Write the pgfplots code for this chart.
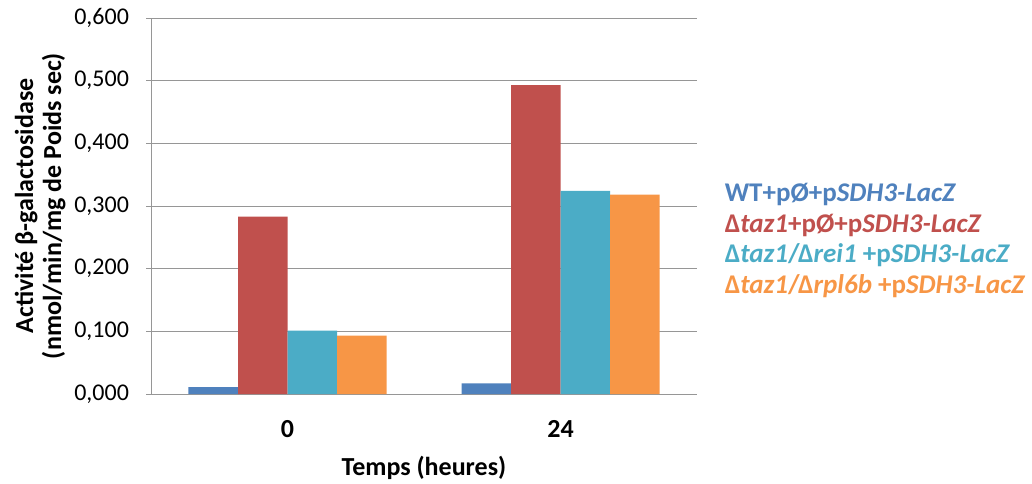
\documentclass[border=0pt]{standalone}
\usepackage{pgfplots}
\pgfplotsset{compat=1.18}
\usepackage{fontspec}
\setmainfont{Carlito}
\definecolor{cblue}{HTML}{4F81BD}
\definecolor{cred}{HTML}{C0504D}
\definecolor{cteal}{HTML}{4BACC6}
\definecolor{corange}{HTML}{F79646}
\definecolor{cgrid}{HTML}{969696}
\begin{document}
\begin{tikzpicture}[x=1pt,y=1pt]
\useasboundingbox (-151,-89) rectangle (881,394);
\begin{axis}[
  scale only axis, width=546pt, height=376pt,
  ybar=0pt, bar width=49.5pt,
  xmin=-0.5, xmax=1.5, ymin=0, ymax=0.6,
  xtick={0,1}, xticklabels={0,24},
  major x tick style={draw=none},
  extra x ticks={-0.5,0.5,1.5}, extra x tick labels={},
  extra x tick style={tick style={draw=cgrid, line width=0.8pt}, major tick length=9pt, tick align=outside, grid=none},
  ytick={0,0.1,...,0.6},
  tick align=outside, major tick length=9pt,
  ytick style={draw=cgrid, line width=0.8pt},
  ymajorgrids, grid style={draw=cgrid, line width=0.8pt},
  axis lines=left, axis line style={-, draw=cgrid, line width=0.8pt},
  yticklabel style={/pgf/number format/fixed, /pgf/number format/fixed zerofill, /pgf/number format/precision=3, /pgf/number format/use comma, /pgf/number format/assume math mode=true, font=\fontsize{24}{26}\selectfont, xshift=-14pt},
  xticklabel style={font=\fontsize{26}{28}\selectfont\bfseries, yshift=-18pt},
  ylabel={Activité β-galactosidase\\(nmol/min/mg de Poids sec)},
  ylabel style={align=center, font=\fontsize{26}{28}\selectfont\bfseries, yshift=2pt},
  xlabel={Temps (heures)},
  xlabel style={font=\fontsize{26}{28}\selectfont\bfseries, yshift=1pt},
  legend image code/.code={},
  legend cell align=left,
  legend style={at={(1.045,0.57)}, anchor=north west, draw=none, fill=none,
    font=\fontsize{27}{29}\selectfont\bfseries,
    nodes={inner sep=0pt, text height=20pt, text depth=6pt},
    row sep=4.5pt},
]
\addplot[fill=cblue, draw=none] coordinates {(0,0.011) (1,0.017)};
\addlegendentry{\textcolor{cblue}{WT+pØ+p\textit{SDH3-LacZ}}}
\addplot[fill=cred, draw=none] coordinates {(0,0.283) (1,0.493)};
\addlegendentry{\textcolor{cred}{Δ\textit{taz1}+pØ+p\textit{SDH3-LacZ}}}
\addplot[fill=cteal, draw=none] coordinates {(0,0.101) (1,0.324)};
\addlegendentry{\textcolor{cteal}{Δ\textit{taz1}/Δ\textit{rei1} +p\textit{SDH3-LacZ}}}
\addplot[fill=corange, draw=none] coordinates {(0,0.093) (1,0.318)};
\addlegendentry{\textcolor{corange}{Δ\textit{taz1}/Δ\textit{rpl6b} +p\textit{SDH3-LacZ}}}
\end{axis}
\end{tikzpicture}
\end{document}
